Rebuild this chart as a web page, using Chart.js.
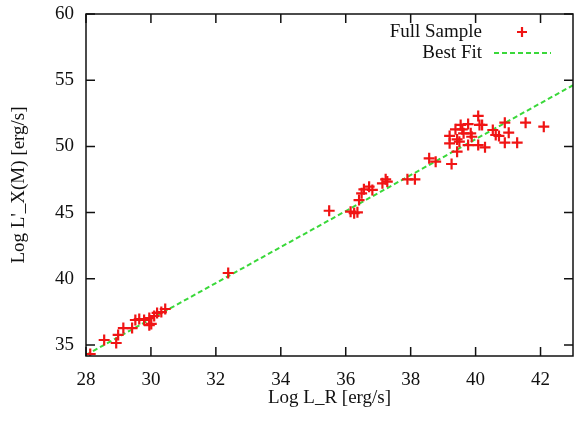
<!DOCTYPE html>
<html>
<head>
<meta charset="utf-8">
<script src="https://cdn.jsdelivr.net/npm/chart.js@4"></script>
<style>
    html, body { margin: 0; padding: 0; background: #ffffff; }
    #chartBox { width: 575px; height: 421px; }
</style>
</head>
<body>
<div id="chartBox"><canvas id="fitChart"></canvas></div>
<script>
// Log L_R [erg/s] of the sample
const sampleX = [
    28.13, 28.56, 28.93, 28.99, 29.15, 29.42, 29.52, 29.64, 29.79, 29.95,
    30.01, 30.10, 30.19, 30.32, 30.44, 29.95,
    32.38,
    35.49, 36.15, 36.26, 36.36, 36.41, 36.49, 36.56, 36.72, 36.82, 37.13,
    37.23, 37.28, 37.90, 38.13,
    38.57, 38.77, 39.26, 39.20, 39.20, 39.43, 39.50, 39.54, 39.59, 39.77,
    39.85, 39.88, 39.77, 40.08, 40.12, 40.20, 40.08, 40.29, 40.53, 40.62,
    40.72, 40.90, 41.02, 40.90, 41.28, 41.54, 42.10, 39.43, 39.63, 39.38
];
// Log L'_X(M) [erg/s] of the sample
const sampleY = [
    34.32, 35.38, 35.15, 35.76, 36.28, 36.28, 36.89, 36.96, 36.89, 37.04,
    36.59, 37.19, 37.42, 37.49, 37.72, 36.50,
    40.44,
    45.14, 45.07, 44.95, 45.02, 45.95, 46.46, 46.76, 46.96, 46.71, 47.21,
    47.51, 47.34, 47.51, 47.51,
    49.10, 48.85, 48.67, 50.79, 50.23, 49.60, 50.36, 51.62, 51.29, 51.69,
    50.99, 50.73, 50.10, 52.30, 51.62, 51.62, 50.10, 49.93, 51.24, 50.86,
    50.79, 51.79, 51.04, 50.28, 50.28, 51.79, 51.49, 50.53, 50.99, 51.29
];
// best fit line end points
const fitX = [28, 43];
const fitY = [34.25, 54.62];

const xTicks = [28, 30, 32, 34, 36, 38, 40, 42];
const yTicks = [35, 40, 45, 50, 55, 60];

const serif = "'Liberation Serif', 'DejaVu Serif', serif";
const RED = "#f01414";
const GREEN = "#3ad83a";

// gnuplot style frame: box plus inward ticks on all four sides
const frameTicks = {
    id: 'frameTicks',
    afterDatasetsDraw(chart) {
        const ctx = chart.ctx;
        const a = chart.chartArea;
        const xs = chart.scales.x, ys = chart.scales.y;
        const len = 9;
        ctx.save();
        ctx.strokeStyle = "#111111";
        ctx.lineWidth = 1.5;
        ctx.strokeRect(a.left, a.top, a.right - a.left, a.bottom - a.top);
        ctx.beginPath();
        for (const v of xTicks) {
            const px = xs.getPixelForValue(v);
            ctx.moveTo(px, a.bottom); ctx.lineTo(px, a.bottom - len);
            ctx.moveTo(px, a.top); ctx.lineTo(px, a.top + len);
        }
        for (const v of yTicks) {
            const py = ys.getPixelForValue(v);
            ctx.moveTo(a.left, py); ctx.lineTo(a.left + len, py);
            ctx.moveTo(a.right, py); ctx.lineTo(a.right - len, py);
        }
        ctx.stroke();
        ctx.restore();
    }
};

// legend in the top right corner: text first, then the sample
const keyBox = {
    id: 'keyBox',
    afterDatasetsDraw(chart) {
        const ctx = chart.ctx;
        const a = chart.chartArea;
        const sets = chart.data.datasets;
        const textRight = a.right - 91;
        ctx.save();
        ctx.font = "19px " + serif;
        ctx.fillStyle = "#111111";
        ctx.textAlign = "right";
        ctx.textBaseline = "middle";
        for (let i = 0; i < sets.length; i++) {
            const y = a.top + 18 + i * 21;
            ctx.fillText(sets[i].label, textRight, y);
            if (sets[i].type === 'scatter') {
                ctx.strokeStyle = RED;
                ctx.lineWidth = 2.2;
                ctx.beginPath();
                ctx.moveTo(a.right - 56, y); ctx.lineTo(a.right - 46, y);
                ctx.moveTo(a.right - 51, y - 5); ctx.lineTo(a.right - 51, y + 5);
                ctx.stroke();
            } else {
                ctx.strokeStyle = GREEN;
                ctx.lineWidth = 2;
                ctx.setLineDash([5, 3]);
                ctx.beginPath();
                ctx.moveTo(a.right - 79, y); ctx.lineTo(a.right - 22, y);
                ctx.stroke();
                ctx.setLineDash([]);
            }
        }
        ctx.restore();
    }
};

// invisible tick marks only push the labels away from the frame
const hiddenTicks = (len) => ({
    display: true,
    drawOnChartArea: false,
    drawTicks: true,
    tickLength: len,
    color: 'rgba(0,0,0,0)'
});

new Chart(document.getElementById('fitChart').getContext('2d'), {
    data: {
        datasets: [{
            type: 'scatter',
            label: 'Full Sample',
            data: sampleX.map((x, i) => ({ x: x, y: sampleY[i] })),
            pointStyle: 'cross',
            radius: 5.5,
            borderWidth: 2.2,
            borderColor: RED,
            backgroundColor: RED,
            order: 1
        }, {
            type: 'line',
            label: 'Best Fit',
            data: fitX.map((x, i) => ({ x: x, y: fitY[i] })),
            borderColor: GREEN,
            borderWidth: 2,
            borderDash: [5, 3],
            pointRadius: 0,
            fill: false,
            order: 2
        }]
    },
    options: {
        responsive: true,
        maintainAspectRatio: false,
        animation: false,
        layout: {
            autoPadding: false,
            padding: { left: 0, top: 14, right: 2, bottom: 0 }
        },
        plugins: {
            legend: { display: false },
            tooltip: { enabled: false }
        },
        scales: {
            x: {
                type: 'linear',
                min: 28,
                max: 43,
                afterBuildTicks: function(scale) {
                    scale.ticks = xTicks.map(v => ({ value: v }));
                },
                afterFit: function(scale) {
                    scale.height = 65;
                    scale.paddingLeft = 0;
                    scale.paddingRight = 0;
                },
                grid: hiddenTicks(13),
                border: { display: false },
                ticks: {
                    color: "#111111",
                    padding: 0,
                    maxRotation: 0,
                    autoSkip: false,
                    font: { family: serif, size: 19 }
                },
                title: {
                    display: true,
                    text: 'Log L_R [erg/s]',
                    color: "#111111",
                    padding: { top: 0, bottom: 12 },
                    font: { family: serif, size: 19 }
                }
            },
            y: {
                type: 'linear',
                min: 34.17,
                max: 60,
                afterBuildTicks: function(scale) {
                    scale.ticks = yTicks.map(v => ({ value: v }));
                },
                afterFit: function(scale) {
                    scale.width = 86;
                    scale.paddingTop = 0;
                    scale.paddingBottom = 0;
                },
                grid: hiddenTicks(12),
                border: { display: false },
                ticks: {
                    color: "#111111",
                    padding: 0,
                    font: { family: serif, size: 19 }
                },
                title: {
                    display: true,
                    text: "Log L'_X(M) [erg/s]",
                    color: "#111111",
                    padding: { top: 8, bottom: 0 },
                    font: { family: serif, size: 19 }
                }
            }
        }
    },
    plugins: [frameTicks, keyBox]
});
</script>
</body>
</html>
